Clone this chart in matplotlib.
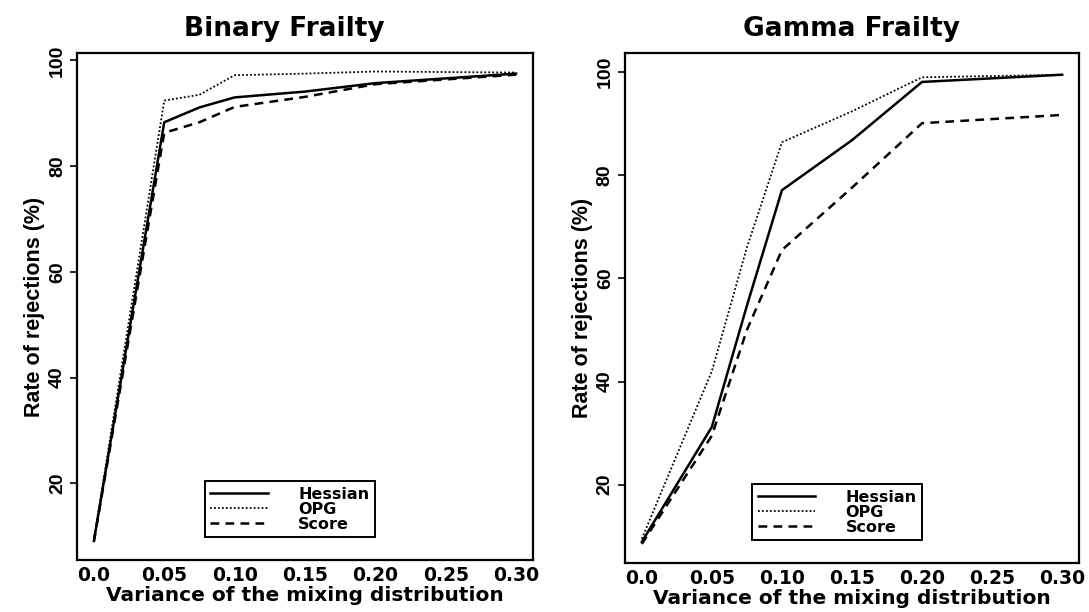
import matplotlib
matplotlib.use("Agg")
import matplotlib.pyplot as plt

# variance of the mixing distribution
variance = [0.0, 0.05, 0.075, 0.10, 0.15, 0.20, 0.30]

# rejection rates (%) - binary frailty
bin_hessian = [9.1, 88.3, 91.1, 93.0, 94.1, 95.7, 97.5]
bin_opg = [9.3, 92.4, 93.5, 97.2, 97.5, 97.9, 97.7]
bin_score = [9.0, 86.3, 88.3, 91.2, 93.1, 95.5, 97.3]

# rejection rates (%) - gamma frailty
gam_hessian = [8.9, 31.2, 54.7, 77.1, 86.8, 98.1, 99.5]
gam_opg = [9.5, 42.0, 66.0, 86.4, 92.4, 99.0, 99.5]
gam_score = [8.5, 29.5, 50.0, 65.5, 77.6, 90.1, 91.7]

xticks = [0.0, 0.05, 0.10, 0.15, 0.20, 0.25, 0.30]
xticklabels = ["0.0", "0.05", "0.10", "0.15", "0.20", "0.25", "0.30"]
yticks = [20, 40, 60, 80, 100]

fig = plt.figure(figsize=(10.89, 6.12), dpi=100)
ax1 = fig.add_axes([0.0707, 0.085, 0.4187, 0.8284])
ax2 = fig.add_axes([0.5739, 0.080, 0.4169, 0.8333])


def panel(ax, title, title_x, hess, opg, score, ylim, legend_x):
    l1, = ax.plot(variance, hess, color="black", lw=1.8, ls="-")
    l2, = ax.plot(variance, opg, color="black", lw=1.3, ls=(0, (1, 1.2)))
    l3, = ax.plot(variance, score, color="black", lw=1.8, ls=(0, (3.5, 2.5)))
    ax.set_xlim(-0.012, 0.312)
    ax.set_ylim(*ylim)
    ax.set_xticks(xticks)
    ax.set_xticklabels(xticklabels, fontsize=13.5, family="DejaVu Sans",
                       fontweight="bold")
    ax.set_yticks(yticks)
    ax.set_yticklabels([str(v) for v in yticks], rotation=90, va="center",
                       fontsize=14, family="Liberation Sans", fontweight="bold")
    ax.tick_params(axis="y", direction="out", length=5, width=1.2, pad=3)
    ax.tick_params(axis="x", length=0, pad=4)
    for s in ax.spines.values():
        s.set_linewidth(1.6)
    ax.set_title(title, x=title_x, fontsize=19, family="DejaVu Sans",
                 fontweight="bold", pad=12)
    ax.set_xlabel("Variance of the mixing distribution", fontsize=14.5,
                  family="DejaVu Sans", fontweight="bold", labelpad=1)
    ax.set_ylabel("Rate of rejections (%)", fontsize=15.5,
                  family="Liberation Sans", fontweight="bold", labelpad=3)
    leg = ax.legend([l1, l2, l3], ["Hessian", "OPG", "Score"],
                    loc="lower left", bbox_to_anchor=(legend_x, 0.045),
                    prop={"family": "DejaVu Sans", "size": 11.5, "weight": "bold"},
                    labelspacing=0.0, handlelength=3.6, handletextpad=1.9,
                    borderpad=0.35, borderaxespad=0, fancybox=False,
                    framealpha=1, edgecolor="black")
    leg.get_frame().set_linewidth(1.4)


panel(ax1, "Binary Frailty", 0.455, bin_hessian, bin_opg, bin_score,
      (5.5, 101.4), 0.28)
panel(ax2, "Gamma Frailty", 0.5, gam_hessian, gam_opg, gam_score,
      (4.8, 103.7), 0.28)

fig.savefig("out.png", dpi=100)
